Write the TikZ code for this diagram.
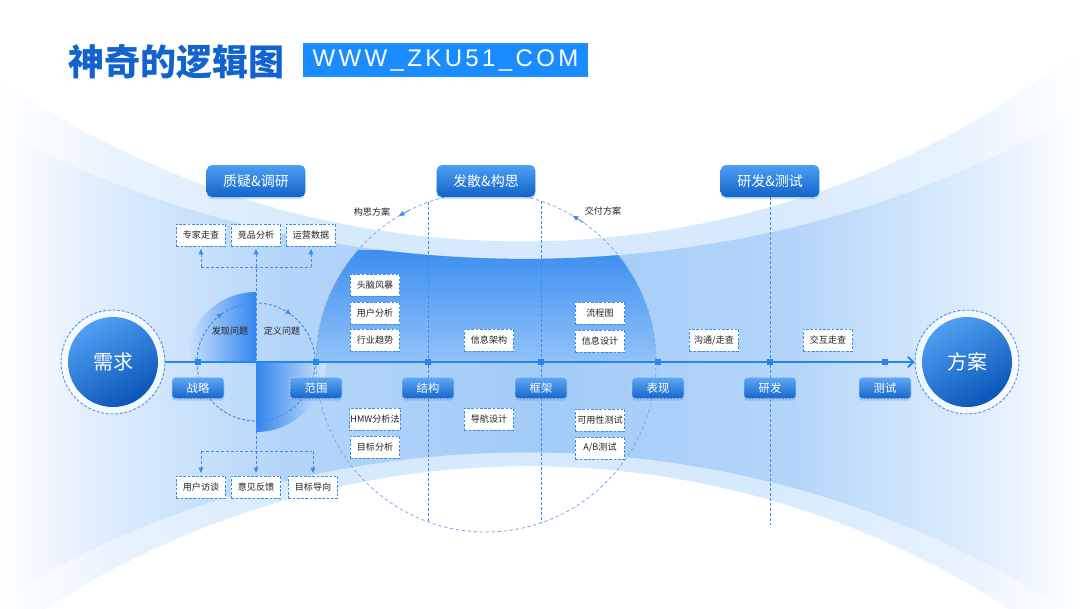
\documentclass[tikz,border=0pt]{standalone}
\usepackage{fontspec}
\setmainfont{Noto Sans CJK SC}
\newfontfamily\urlfont[LetterSpace=14]{Liberation Sans}
\usepackage{tikz}
\usetikzlibrary{arrows.meta,positioning,shadows}
\definecolor{axisblue}{HTML}{2A85EA}
\definecolor{dashblue}{HTML}{3A8DEA}
\definecolor{orbitblue}{HTML}{7FAADF}
\definecolor{bandblue}{HTML}{A2CBF8}
\definecolor{haloblue}{HTML}{D6E9FD}
\definecolor{domeblue}{HTML}{3C8EF1}
\definecolor{domelow}{HTML}{93C3F8}
\definecolor{quarterblue}{HTML}{3386EF}
\definecolor{hubtop}{HTML}{4FA0F3}
\definecolor{hubbot}{HTML}{0A55B8}
\definecolor{hdrtop}{HTML}{4C9FF3}
\definecolor{hdrbot}{HTML}{1263C8}
\definecolor{stagetop}{HTML}{5EA8F5}
\definecolor{stagebot}{HTML}{1666CA}
\definecolor{titleblue}{HTML}{1262D0}
\definecolor{urlblue}{HTML}{1A8CFF}
\definecolor{inkgray}{HTML}{222222}
\pgfdeclarehorizontalshading{outerfade}{100bp}{color(0bp)=(white); color(25bp)=(white);
  color(31bp)=(haloblue!60); color(40bp)=(haloblue); color(60bp)=(haloblue);
  color(69bp)=(haloblue!60); color(75bp)=(white); color(100bp)=(white)}
\pgfdeclarehorizontalshading{innerfade}{100bp}{color(0bp)=(white); color(25bp)=(white);
  color(29bp)=(bandblue!30); color(38bp)=(bandblue!80); color(50bp)=(bandblue);
  color(62bp)=(bandblue!80); color(71bp)=(bandblue!30); color(75bp)=(white); color(100bp)=(white)}
\newcommand{\outerband}{(0,80) .. controls (320,300) and (760,300) .. (1080,50)
  -- (1080,660) .. controls (760,405) and (320,405) .. (0,640) -- cycle}
\newcommand{\innerband}{(0,130) .. controls (320,305) and (760,305) .. (1080,110)
  -- (1080,620) .. controls (760,400) and (320,400) .. (0,600) -- cycle}

\begin{document}
\begin{tikzpicture}[
  x=0.75pt,y=-0.75pt,font=\fontsize{6.8}{8}\selectfont,
  hdr/.style={rectangle,rounded corners=4pt,minimum width=74pt,minimum height=24pt,
    top color=hdrtop,bottom color=hdrbot,text=white,font=\fontsize{10.5}{12}\selectfont,
    drop shadow={shadow xshift=0pt,shadow yshift=-1.5pt,opacity=.25,fill=axisblue}},
  stage/.style={rectangle,rounded corners=2.5pt,minimum width=39pt,minimum height=16pt,inner sep=1pt,
    top color=stagetop,bottom color=stagebot,draw=white!70!axisblue,line width=.6pt,
    dash pattern=on 1.5pt off 1pt,text=white,font=\fontsize{8.5}{10}\selectfont,
    drop shadow={shadow xshift=0pt,shadow yshift=-1.5pt,opacity=.25,fill=axisblue}},
  tag/.style={rectangle,fill=white,draw=dashblue,line width=.6pt,dash pattern=on 2pt off 1.2pt,
    minimum width=37pt,minimum height=16.5pt,inner sep=.6pt,text=inkgray},
  note/.style={text=inkgray,inner sep=0pt},
  dot/.style={rectangle,fill=axisblue,minimum size=4.5pt,inner sep=0pt},
  hub/.style={circle,minimum size=78pt,draw=dashblue,line width=.6pt,dash pattern=on 2pt off 1.5pt,
    text=white,font=\fontsize{15}{17}\selectfont},
  hubfill/.style={top color=hubtop,bottom color=hubbot,shading angle=30},
  tree/.style={draw=dashblue,line width=.7pt,dash pattern=on 2.2pt off 1.5pt},
  treearrow/.style={tree,-{Latex[length=4.5pt,width=4pt]},shorten >=1.5pt},
  orbit/.style={draw=orbitblue,line width=.6pt,dash pattern=on 2.5pt off 2pt},
  tip/.style={draw=dashblue,line width=.6pt,-{Latex[length=4.5pt,width=4pt]}},
  axisline/.style={draw=axisblue,line width=1.5pt}
]
\useasboundingbox (0,0) rectangle (1080,608);
\fill[white] (0,0) rectangle (1080,608);
% funnel background
\shade[shading=outerfade] \outerband;
\shade[shading=innerfade] \innerband;
\begin{scope}
  \clip \innerband;
  \clip (316,362) arc[start angle=180,end angle=360,radius=170] -- cycle;
  \shade[top color=domeblue,bottom color=domelow] (300,250) rectangle (680,362);
\end{scope}
\shade[left color=bandblue!50,right color=quarterblue] (256,362) -- (186,362)
  arc[start angle=180,end angle=270,radius=70] -- cycle;
\shade[left color=quarterblue,right color=bandblue!50] (256,362) -- (256,432)
  arc[start angle=90,end angle=0,radius=70] -- cycle;

\node[anchor=west,text=titleblue,font=\bfseries\fontsize{27}{30}\selectfont] (title) at (64,62) {神奇的逻辑图};
\node[fill=urlblue,text=white,minimum width=213.75pt,minimum height=25.5pt,inner sep=0pt,
  font=\urlfont\fontsize{18}{20}\selectfont] (url) at (445.5,60) {WWW\_ZKU51\_COM};

\draw[orbit] (486,362) circle[radius=170];
\draw[tree] (256,362) circle[radius=59];

\node[hdr] (ask) at (256,181) {质疑\&调研};
\node[hdr] (idea) at (486,181) {发散\&构思};
\node[hdr] (build) at (770,181) {研发\&测试};

\coordinate (c1t) at (428,202); \coordinate (c1b) at (428,522);
\coordinate (c2t) at (541,201); \coordinate (c2b) at (541,523);
\coordinate (c3b) at (770,525);
\draw[tree] (c1t) -- (c1b);
\draw[tree] (c2t) -- (c2b);
\draw[tree] (build) -- (c3b);

\fill[white,opacity=.7] (113,362) circle[radius=51];
\shade[hubfill] (113,362) circle[radius=45];
\node[hub] (need) at (113,362) {需求};
\fill[white,opacity=.7] (967,362) circle[radius=51];
\shade[hubfill] (967,362) circle[radius=45];
\node[hub] (plan) at (967,362) {方案};
\draw[axisline,-{Straight Barb[length=4pt,width=8pt]}] (need) -- (plan);

\foreach \x/\t [count=\i] in {198/战略,316/范围,428/结构,541/框架,658/表现,770/研发,885/测试}{
  \node[dot] (d\i) at (\x,362) {};
  \node[stage] (s\i) at (\x,388) {\t};
}

\node[tag] (q1) at (201,235) {专家走查};
\node[tag] (q2) at (256,235) {竞品分析};
\node[tag] (q3) at (311,235) {运营数据};
\node[tag] (p1) at (201,487) {用户访谈};
\node[tag] (p2) at (256,487) {意见反馈};
\node[tag] (p3) at (313,487) {目标导向};
\node[tag] (k1) at (375,285) {头脑风暴};
\node[tag] (k2) at (375,313) {用户分析};
\node[tag] (k3) at (375,340) {行业趋势};
\node[tag] (k4) at (375,419) {HMW分析法};
\node[tag] (k5) at (375,447) {目标分析};
\node[tag] (m1) at (489,340) {信息架构};
\node[tag] (m2) at (489,419) {导航设计};
\node[tag] (f1) at (600,313) {流程图};
\node[tag] (f2) at (600,341) {信息设计};
\node[tag] (f3) at (600,420) {可用性测试};
\node[tag] (f4) at (600,448) {A/B测试};
\node[tag] (r1) at (714,340) {沟通/走查};
\node[tag] (r2) at (828,340) {交互走查};

\coordinate (jt) at (256,267); \coordinate (jb) at (256,451);
\draw[tree] (q1.south |- jt) -- (q3.south |- jt);
\draw[treearrow] (q1.south |- jt) -- (q1.south);
\draw[treearrow] (q3.south |- jt) -- (q3.south);
\draw[tree,{Latex[length=4.5pt,width=4pt]}-{Latex[length=4.5pt,width=4pt]},shorten <=1.5pt,shorten >=1.5pt] (q2) -- (p2);
\draw[tree] (p1.north |- jb) -- (p3.north |- jb);
\draw[treearrow] (p1.north |- jb) -- (p1.north);
\draw[treearrow] (p3.north |- jb) -- (p3.north);

\node[note] (find) at (230,331) {发现问题};
\node[note] (define) at (282,331) {定义问题};
\node[note] (draft) at (372,212) {构思方案};
\node[note] (deliver) at (603,211) {交付方案};

\draw[tip] (256,362) ++(-128:59) arc[start angle=-128,end angle=-124,radius=59];
\draw[tip] (256,362) ++(-57:59) arc[start angle=-57,end angle=-53,radius=59];
\draw[tip] (486,362) ++(-117:170) arc[start angle=-117,end angle=-121,radius=170];
\draw[tip] (486,362) ++(-55:170) arc[start angle=-55,end angle=-59.5,radius=170];
\end{tikzpicture}
\end{document}
